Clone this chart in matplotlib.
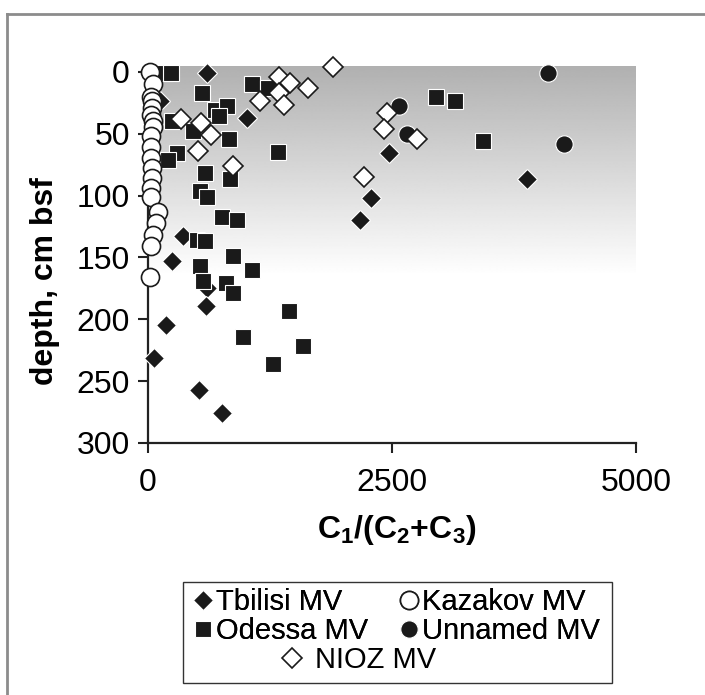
import matplotlib

matplotlib.use("Agg")

import matplotlib.pyplot as plt
import numpy as np
from matplotlib.lines import Line2D
from matplotlib.patches import Rectangle

plt.rcParams.update({
    "font.family": "Liberation Sans",
    "mathtext.fontset": "custom",
    "mathtext.rm": "Liberation Sans",
    "mathtext.bf": "Liberation Sans:bold",
    "mathtext.it": "Liberation Sans:italic",
})

# C1/(C2+C3) ratio vs depth (cm bsf)
tbilisi_ratio = [605, 120, 1015, 2470, 3885, 2285, 2173, 360, 246, 600, 595, 185, 62, 523, 758]
tbilisi_depth = [1, 24, 37, 66, 87, 102, 120, 133, 153, 175, 189, 205, 231, 257, 276]

odessa_ratio = [175, 240, 550, 1070, 1230, 690, 810, 730, 245, 460, 830, 1335, 300, 205,
                585, 840, 530, 605, 760, 910, 500, 585, 870, 1070, 530, 565, 800, 870,
                1445, 975, 1590, 1280, 2950, 3150, 3435]
odessa_depth = [1, 1, 17, 10, 13, 31, 28, 36, 40, 48, 54, 65, 66, 71,
                82, 87, 96, 101, 117, 120, 136, 137, 149, 160, 157, 169, 171, 179,
                193, 214, 222, 236, 20, 24, 56]

unnamed_ratio = [4100, 2570, 2650, 4265]
unnamed_depth = [1, 28, 50, 58]

kazakov_ratio = [20, 50, 30, 40, 40, 30, 50, 50, 30, 30, 30, 40, 40, 30, 30, 100, 80, 50, 30, 20]
kazakov_depth = [0, 10, 20, 24, 29, 35, 40, 45, 52, 61, 70, 78, 86, 94, 101, 113, 122, 132, 141, 166]

nioz_ratio = [1895, 1345, 1450, 1640, 1345, 1150, 1395, 340, 545, 645, 510, 870, 2215, 2450,
              2420, 2760]
nioz_depth = [-4, 4, 9, 13, 17, 24, 27, 38, 41, 51, 64, 76, 85, 33, 46, 54]

X_TICKS = [0, 2500, 5000]
Y_TICKS = [0, 50, 100, 150, 200, 250, 300]

DARK = "#1a1a1a"

figure = plt.figure(figsize=(7.05, 6.95), dpi=100)
axis = figure.add_axes([0.21, 0.3626, 0.692, 0.543])

# grey fade behind the upper part of the plot
fade = np.linspace(0.69, 1.0, 256).reshape(-1, 1)
axis.imshow(fade, cmap="gray", vmin=0, vmax=1, extent=[0, 5000, 165, -5],
            aspect="auto", zorder=0, interpolation="bilinear")

common = dict(linestyle="none", clip_on=False)
tbilisi, = axis.plot(tbilisi_ratio, tbilisi_depth, marker="D", markersize=10,
                     markerfacecolor=DARK, markeredgecolor="white", markeredgewidth=0.8,
                     label="Tbilisi MV", zorder=3, **common)
odessa, = axis.plot(odessa_ratio, odessa_depth, marker="s", markersize=12,
                    markerfacecolor=DARK, markeredgecolor="white", markeredgewidth=0.8,
                    label="Odessa MV", zorder=4, **common)
unnamed, = axis.plot(unnamed_ratio, unnamed_depth, marker="o", markersize=12.5,
                     markerfacecolor=DARK, markeredgecolor="white", markeredgewidth=0.8,
                     label="Unnamed MV", zorder=5, **common)
kazakov, = axis.plot(kazakov_ratio, kazakov_depth, marker="o", markersize=13,
                     markerfacecolor="white", markeredgecolor=DARK, markeredgewidth=1.2,
                     label="Kazakov MV", zorder=6, **common)
nioz, = axis.plot(nioz_ratio, nioz_depth, marker="D", markersize=10,
                  markerfacecolor="white", markeredgecolor=DARK, markeredgewidth=1.2,
                  label="NIOZ MV", zorder=7, **common)

axis.set_xlim(0, 5000)
axis.set_ylim(300, -5)
axis.set_xticks(X_TICKS)
axis.set_yticks(Y_TICKS)
for side in ("top", "right"):
    axis.spines[side].set_visible(False)
for side in ("left", "bottom"):
    axis.spines[side].set_linewidth(1.6)
    axis.spines[side].set_color("#222222")
axis.tick_params(direction="out", length=7, width=1.5, labelsize=23, color="#222222")
axis.tick_params(axis="x", pad=11)
axis.tick_params(axis="y", pad=6)

axis.set_ylabel("depth, cm bsf", fontsize=23, fontweight="bold")
axis.yaxis.set_label_coords(-0.18, 0.43)
axis.set_xlabel(r"$\mathbf{C_1/(C_2{+}C_3)}$", fontsize=23)
axis.xaxis.set_label_coords(0.51, -0.185)
axis.xaxis.label.set_va("top")

# legend: two columns of four, NIOZ centred below, one frame round both
W, H = 705.0, 695.0
first = figure.legend([tbilisi, odessa, kazakov, unnamed],
                      ["Tbilisi MV", "Odessa MV", "Kazakov MV", "Unnamed MV"],
                      ncol=2, loc="upper left", bbox_to_anchor=(194 / W, 1 - 588 / H),
                      frameon=False, fontsize=21, handlelength=0.6, handletextpad=0.15,
                      columnspacing=1.1, labelspacing=0.05, borderpad=0, borderaxespad=0)
second = figure.legend([nioz], ["NIOZ MV"], loc="upper left",
                       bbox_to_anchor=(283 / W, 1 - 646 / H), frameon=False, fontsize=21,
                       handlelength=0.6, handletextpad=0.5, borderpad=0, borderaxespad=0)
figure.add_artist(first)
figure.add_artist(Rectangle((183 / W, 1 - 683 / H), 429 / W, 101 / H,
                            transform=figure.transFigure, fill=False,
                            edgecolor="#333333", linewidth=1.0))

# grey frame of the original panel
figure.add_artist(Line2D([7 / W, 1], [1 - 14 / H, 1 - 14 / H], transform=figure.transFigure,
                         color="#8c8c8c", linewidth=2))
figure.add_artist(Line2D([7 / W, 7 / W], [0, 1 - 14 / H], transform=figure.transFigure,
                         color="#8c8c8c", linewidth=2))

figure.savefig("out.png", dpi=100)
